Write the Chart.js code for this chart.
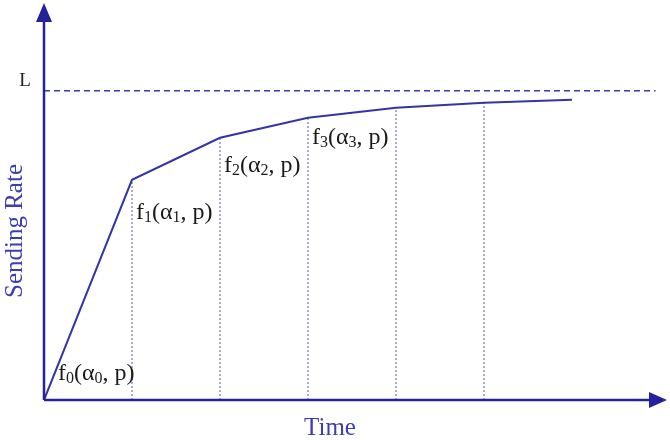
<!DOCTYPE html>
<html>
<head>
<meta charset="utf-8">
<script src="https://cdn.jsdelivr.net/npm/chart.js@4/dist/chart.umd.min.js"></script>
<style>
  html, body { margin: 0; padding: 0; background: #fff; }
  #wrap { width: 670px; height: 440px; }
</style>
</head>
<body>
<div id="wrap"><canvas id="rateChart" width="670" height="440"></canvas></div>
<script>
// step boundaries on the time axis and sending rate at each one
const timeSteps = [0, 1, 2, 3, 4, 5, 6];
const rateValues = [0, 0.712, 0.848, 0.913, 0.945, 0.961, 0.971];
const limitL = 1.0;
// labels f_i(α_i, p), anchored at the start of each segment
const stepLabels = ['0', '1', '2', '3'];
const labelHeights = [0.087, 0.608, 0.760, 0.851];

const curve = timeSteps.map((t, i) => ({ x: t, y: rateValues[i] }));

const datasets = [{
  data: curve,
  borderColor: '#3434a4',
  borderWidth: 2,
  pointRadius: 0,
  showLine: true,
  order: 0
}, {
  data: [{ x: 0, y: limitL }, { x: 6.95, y: limitL }],
  borderColor: '#3a3aac',
  borderWidth: 1.5,
  borderDash: [6, 4],
  pointRadius: 0,
  showLine: true
}];
// dotted drops from the curve to the time axis
for (let i = 1; i <= 5; i++) {
  datasets.push({
    data: [{ x: timeSteps[i], y: 0 }, { x: timeSteps[i], y: rateValues[i] }],
    borderColor: '#5656c4',
    borderWidth: 1,
    borderDash: [2, 2],
    pointRadius: 0,
    showLine: true
  });
}

const axesAndText = {
  id: 'axesAndText',
  afterDatasetsDraw(chart) {
    const ctx = chart.ctx;
    const xs = chart.scales.x, ys = chart.scales.y;
    const x0 = xs.getPixelForValue(0), y0 = ys.getPixelForValue(0);
    const xEnd = xs.right, yEnd = ys.top;
    ctx.save();
    // axes with arrow heads
    ctx.strokeStyle = '#22229a';
    ctx.fillStyle = '#22229a';
    ctx.lineWidth = 2.5;
    ctx.beginPath();
    ctx.moveTo(x0, y0); ctx.lineTo(xEnd - 14, y0);
    ctx.moveTo(x0, y0); ctx.lineTo(x0, yEnd + 14);
    ctx.stroke();
    ctx.beginPath();
    ctx.moveTo(xEnd, y0); ctx.lineTo(xEnd - 18, y0 - 8); ctx.lineTo(xEnd - 18, y0 + 8);
    ctx.closePath(); ctx.fill();
    ctx.beginPath();
    ctx.moveTo(x0, yEnd); ctx.lineTo(x0 - 8, yEnd + 19); ctx.lineTo(x0 + 8, yEnd + 19);
    ctx.closePath(); ctx.fill();

    // axis titles
    ctx.fillStyle = '#3c3cb4';
    ctx.font = '25px "Liberation Serif", serif';
    ctx.textAlign = 'center';
    ctx.textBaseline = 'middle';
    ctx.fillText('Time', 330, 428);
    ctx.save();
    ctx.translate(15, 231);
    ctx.rotate(-Math.PI / 2);
    ctx.fillText('Sending Rate', 0, 0);
    ctx.restore();

    // L label
    ctx.fillStyle = '#222';
    ctx.font = '19px "Liberation Serif", serif';
    ctx.fillText('L', 25, ys.getPixelForValue(limitL) - 10);

    // f_i(α_i, p) labels with subscripts
    ctx.textAlign = 'left';
    ctx.textBaseline = 'alphabetic';
    ctx.fillStyle = '#1a1a1a';
    const big = '24px "Liberation Serif", serif';
    const small = '16px "Liberation Serif", serif';
    stepLabels.forEach((s, i) => {
      let px = xs.getPixelForValue(timeSteps[i]) + (i === 0 ? 14 : 4);
      const py = ys.getPixelForValue(labelHeights[i]) + 7;
      const parts = [['f', big, 0], [s, small, 3], ['(α', big, 0], [s, small, 3], [', p)', big, 0]];
      parts.forEach(p => {
        ctx.font = p[1];
        ctx.fillText(p[0], px, py + p[2]);
        px += ctx.measureText(p[0]).width;
      });
    });
    ctx.restore();
  }
};

new Chart(document.getElementById('rateChart'), {
  type: 'scatter',
  data: { datasets: datasets },
  options: {
    responsive: false,
    animation: false,
    layout: { padding: { left: 44, right: 3, top: 3, bottom: 40 } },
    plugins: { legend: { display: false }, tooltip: { enabled: false } },
    scales: {
      x: { type: 'linear', min: 0, max: 7.08, display: false },
      y: { type: 'linear', min: 0, max: 1.284, display: false }
    }
  },
  plugins: [axesAndText]
});
</script>
</body>
</html>
